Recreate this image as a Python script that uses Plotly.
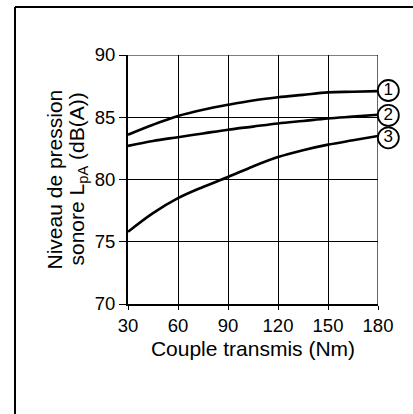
import plotly.graph_objects as go

torque = [30, 45, 60, 75, 90, 105, 120, 135, 150, 165, 180]
curve1 = [83.6, 84.4, 85.1, 85.6, 86.0, 86.35, 86.6, 86.8, 87.0, 87.05, 87.1]
curve2 = [82.7, 83.1, 83.4, 83.7, 84.0, 84.25, 84.5, 84.7, 84.9, 85.05, 85.2]
curve3 = [75.8, 77.3, 78.5, 79.4, 80.2, 81.05, 81.8, 82.35, 82.8, 83.15, 83.5]
curve_labels = ["1", "2", "3"]
x_ticks = [30, 60, 90, 120, 150, 180]
y_ticks = [70, 75, 80, 85, 90]
x_title = "Couple transmis (Nm)"
y_title_lines = ["Niveau de pression", "sonore L<sub>pA</sub> (dB(A))"]

FONT = "Liberation Sans, Arial, Helvetica"
W, H = 413, 414
L, R, T, B = 128, 13, 55, 110
plot_w = W - L - R
main_frac = 250 / plot_w  # main axes occupy 250 px

fig = go.Figure()
for ys in (curve1, curve2, curve3):
    fig.add_trace(go.Scatter(x=torque, y=ys, mode="lines",
                             line=dict(color="black", width=2.6, shape="spline"),
                             showlegend=False, hoverinfo="skip"))

# circled curve numbers in a narrow side panel sharing the y scale
label_x = [186.2] * 3
label_y = [curve1[-1] + 0.05, curve2[-1] - 0.05, curve3[-1] - 0.15]
fig.add_trace(go.Scatter(
    x=label_x, y=label_y, mode="markers+text", text=curve_labels,
    textposition="middle center", xaxis="x2", yaxis="y2",
    textfont=dict(family=FONT, size=17, color="black"),
    marker=dict(symbol="circle", size=21, color="white",
                line=dict(color="black", width=1.8)),
    cliponaxis=False, showlegend=False, hoverinfo="skip"))

axis_common = dict(showgrid=True, gridcolor="black", gridwidth=1, showline=True,
                   linecolor="black", linewidth=2, ticks="outside",
                   tickcolor="black", zeroline=False, automargin=False)

x_side_span = (plot_w - 250) * 150 / 250

def px_to_paper_x(px):
    return (px - L) / plot_w

def px_to_paper_y(py):
    return (H - B - py) / (H - T - B)

annotations = []
for line, cx in zip(y_title_lines, [54, 77]):
    annotations.append(dict(text=line, xref="paper", yref="paper",
                            x=px_to_paper_x(cx), y=0.5, textangle=-90,
                            showarrow=False, xanchor="center", yanchor="middle",
                            font=dict(family=FONT, size=21, color="black")))

fig.update_layout(
    width=W, height=H,
    margin=dict(l=L, r=R, t=T, b=B, autoexpand=False),
    paper_bgcolor="white", plot_bgcolor="white",
    xaxis=dict(range=[30, 180], tickvals=x_ticks, domain=[0, main_frac],
               ticklen=4, tickfont=dict(family=FONT, size=18.5, color="black"),
               title=dict(text=x_title, font=dict(family=FONT, size=21, color="black"),
                          standoff=6),
               **axis_common),
    yaxis=dict(range=[70, 90], tickvals=y_ticks, ticklen=7,
               tickfont=dict(family=FONT, size=18.5, color="black"),
               **axis_common),
    xaxis2=dict(range=[180, 180 + x_side_span], domain=[main_frac, 1], anchor="y2",
                visible=False, fixedrange=True, automargin=False),
    yaxis2=dict(range=[70, 90], anchor="x2", visible=False, fixedrange=True,
                automargin=False),
    annotations=annotations,
    shapes=[
        dict(type="line", xref="x", yref="y", x0=180, x1=180, y0=70, y1=90,
             line=dict(color="black", width=1.2)),
        dict(type="line", xref="x", yref="y", x0=30, x1=180, y0=90, y1=90,
             line=dict(color="black", width=1.2)),
        dict(type="line", xref="paper", yref="paper", x0=px_to_paper_x(15),
             x1=px_to_paper_x(413), y0=px_to_paper_y(7), y1=px_to_paper_y(7),
             line=dict(color="black", width=2)),
        dict(type="line", xref="paper", yref="paper", x0=px_to_paper_x(15),
             x1=px_to_paper_x(15), y0=px_to_paper_y(7), y1=px_to_paper_y(414),
             line=dict(color="black", width=2)),
    ],
)
fig.write_html("out.html")
